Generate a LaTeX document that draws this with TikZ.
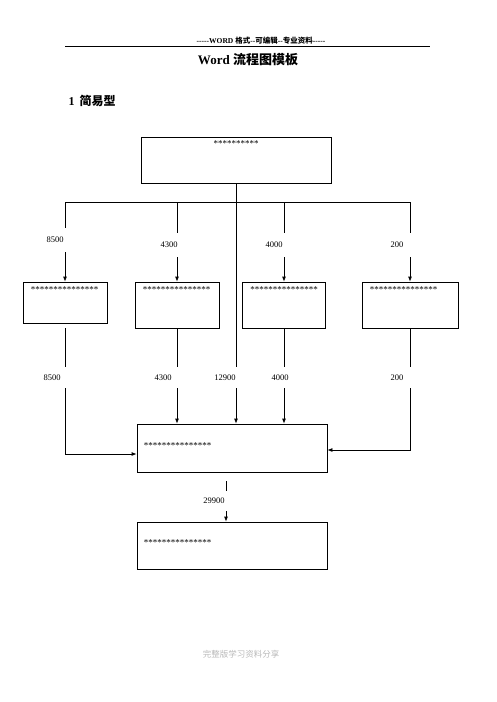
\documentclass[tikz,border=0pt]{standalone}
\usepackage{fontspec}
\setmainfont{Liberation Serif}
\newfontfamily\cjk{Noto Sans CJK SC}
\newfontfamily\plainrm{Liberation Serif}
\usetikzlibrary{arrows.meta}

\begin{document}
\begin{tikzpicture}[x=1pt, y=-1pt,
    box/.style={draw, line width=0.8pt, inner sep=0pt},
    num/.style={font=\fontsize{8.5}{10}\selectfont, inner sep=0pt},
    stars/.style={font=\fontsize{9}{10}\selectfont, inner sep=0pt, anchor=north west},
    ln/.style={line width=0.8pt},
    arr/.style={ln, -{Latex[length=5pt,width=4pt]}}]
    \useasboundingbox (0,0) rectangle (496,702);
    % page header and headings
    \node[font=\plainrm\fontsize{7.5}{9}\selectfont\bfseries] (hdr) at (261,41) {-----WORD {\cjk 格式}--{\cjk 可编辑}--{\cjk 专业资料}-----};
    \draw[ln] (65,46) -- (430,46);
    \node[font=\fontsize{13}{15}\selectfont\bfseries] (title) at (248,60) {Word {\cjk 流程图模板}};
    \node[font=\fontsize{12}{14}\selectfont\bfseries, anchor=west] (sec) at (65,101) {1\hspace{5pt}{\cjk 简易型}};

    % boxes
    \node[box, minimum width=190pt, minimum height=46pt] (top) at (236,160) {};
    \node[box, minimum width=84pt, minimum height=41pt] (m1) at (65,302.5) {};
    \node[box, minimum width=84pt, minimum height=46pt] (m2) at (177,305) {};
    \node[box, minimum width=83pt, minimum height=46pt] (m3) at (284,305) {};
    \node[box, minimum width=96pt, minimum height=46pt] (m4) at (410,305) {};
    \node[box, minimum width=190pt, minimum height=48pt] (bot) at (232,448) {};
    \node[box, minimum width=190pt, minimum height=47pt] (fin) at (232,545.5) {};

    \node[stars, anchor=center] (st0) at (236,144) {**********};
    \node[stars] (st1) at ([shift={(8,5)}]m1.north west) {***************};
    \node[stars] (st2) at ([shift={(8,5)}]m2.north west) {***************};
    \node[stars] (st3) at ([shift={(8,5)}]m3.north west) {***************};
    \node[stars] (st4) at ([shift={(8,5)}]m4.north west) {***************};
    \node[stars] (st5) at ([shift={(7,19)}]bot.north west) {***************};
    \node[stars] (st6) at ([shift={(7,18)}]fin.north west) {***************};

    % values on the lines
    \node[num, minimum height=24pt] (t1) at (55,240) {8500};
    \node[num, minimum height=24pt] (t2) at (169,245) {4300};
    \node[num, minimum height=24pt] (t3) at (274,245) {4000};
    \node[num, minimum height=24pt] (t4) at (397,245) {200};
    \node[num, minimum height=21pt] (u1) at (52,377.5) {8500};
    \node[num, minimum height=21pt] (u2) at (163,377.5) {4300};
    \node[num, minimum height=21pt] (u3) at (225,377.5) {12900};
    \node[num, minimum height=21pt] (u4) at (280,377.5) {4000};
    \node[num, minimum height=21pt] (u5) at (397,377.5) {200};
    \node[num, minimum height=20pt] (u6) at (214,501) {29900};

    % split bar
    \coordinate (bc) at (236,202);
    \coordinate (b1) at (65,202);
    \coordinate (b2) at (177,202);
    \coordinate (b3) at (284,202);
    \coordinate (b4) at (410,202);
    \draw[ln] (top.south) -- (bc);
    \draw[ln] (b1) -- (b4);

    \draw[ln] (b1) -- (b1 |- t1.north);
    \draw[arr] (b1 |- t1.south) -- (m1.north);
    \draw[ln] (b2) -- (b2 |- t2.north);
    \draw[arr] (b2 |- t2.south) -- (m2.north);
    \draw[ln] (b3) -- (b3 |- t3.north);
    \draw[arr] (b3 |- t3.south) -- (m3.north);
    \draw[ln] (b4) -- (b4 |- t4.north);
    \draw[arr] (b4 |- t4.south) -- (m4.north);

    % into the sum box
    \draw[ln] ([yshift=-5pt]m1.south) -- (m1 |- u1.north);
    \draw[arr] (m1 |- u1.south) |- ([yshift=-6pt]bot.west);
    \draw[ln] (m2.south) -- (m2 |- u2.north);
    \draw[arr] (m2 |- u2.south) -- (m2 |- bot.north);
    \draw[ln] (bc) -- (bc |- u3.north);
    \draw[arr] (bc |- u3.south) -- (bc |- bot.north);
    \draw[ln] (m3.south) -- (m3 |- u4.north);
    \draw[arr] (m3 |- u4.south) -- (m3 |- bot.north);
    \draw[ln] (m4.south) -- (m4 |- u5.north);
    \draw[arr] (m4 |- u5.south) |- ([yshift=-2pt]bot.east);

    % total
    \coordinate (s1) at (226,481);
    \draw[ln] (s1) -- (s1 |- u6.north);
    \draw[arr] (s1 |- u6.south) -- (s1 |- fin.north);

    % footer
    \node[font=\cjk\fontsize{8.5}{10}\selectfont, text=gray!55] (ftr) at (241,654) {完整版学习资料分享};
\end{tikzpicture}
\end{document}
